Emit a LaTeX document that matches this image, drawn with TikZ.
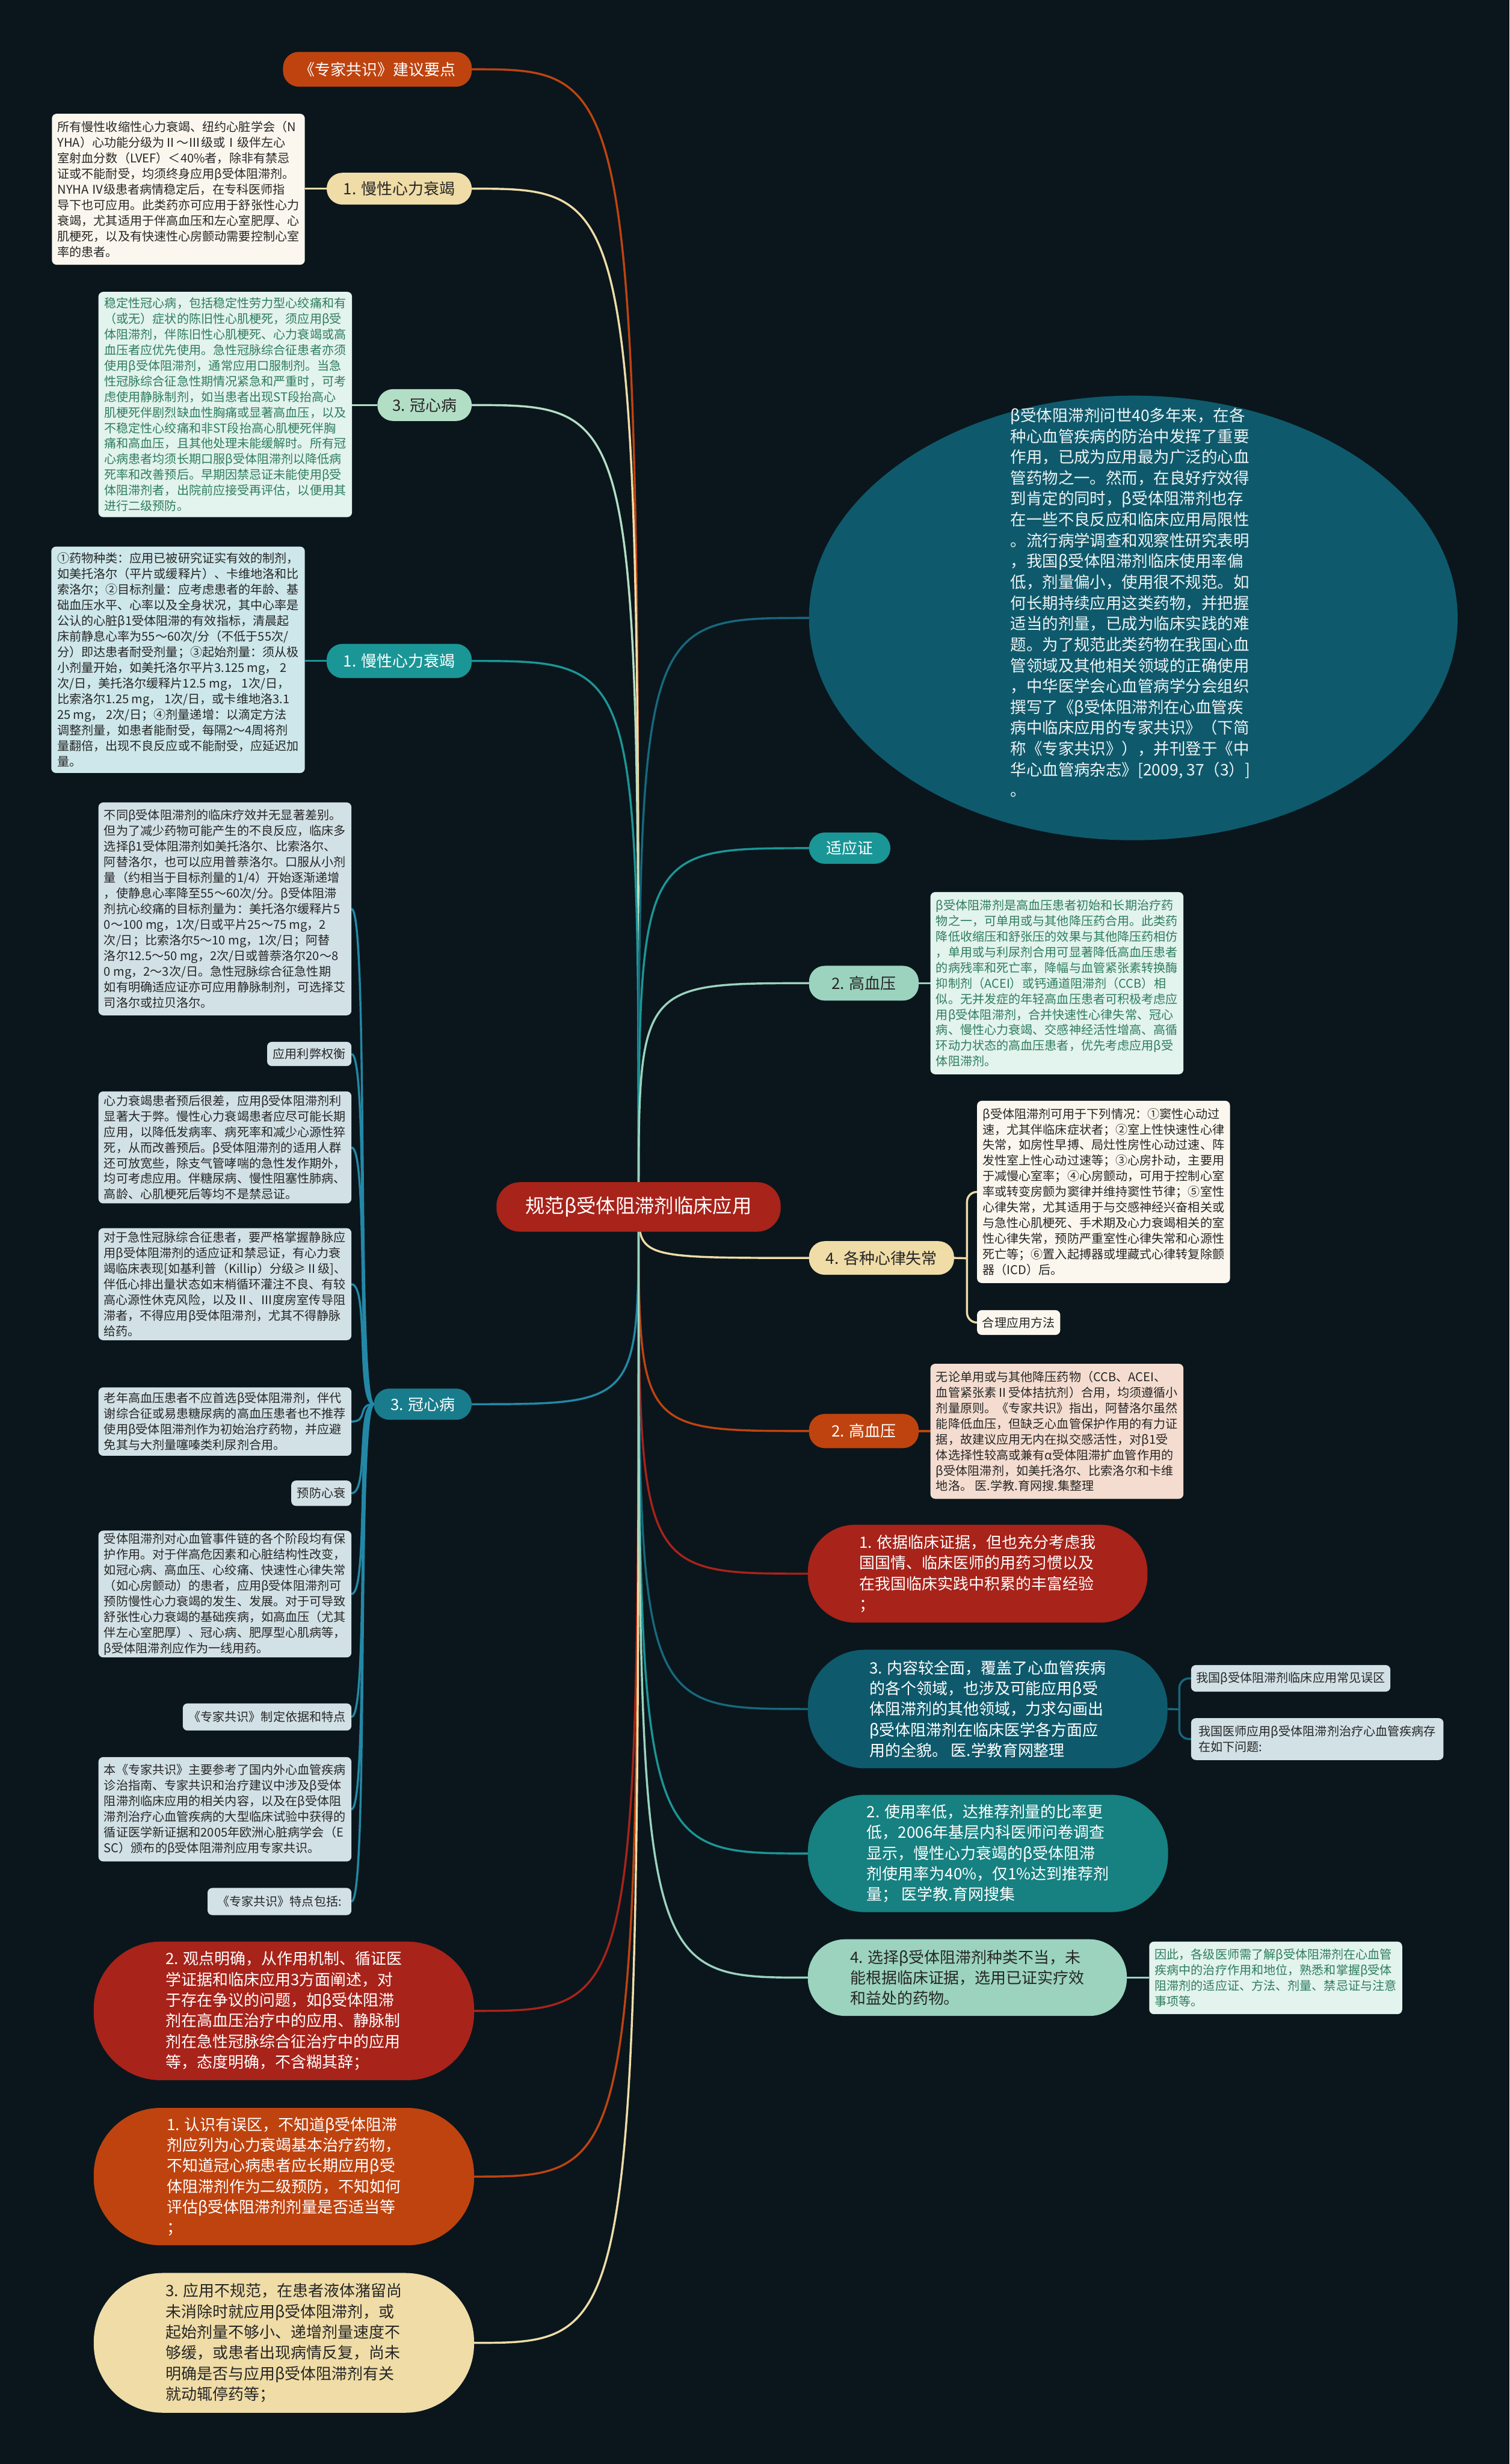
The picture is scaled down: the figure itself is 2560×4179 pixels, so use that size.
\documentclass[tikz,border=0pt]{standalone}
\usepackage{fontspec}
\setmainfont{Noto Sans CJK SC}
\usetikzlibrary{backgrounds,shapes.geometric}
\definecolor{bg}{HTML}{0A161C}
\definecolor{cRed}{HTML}{A8231A}
\definecolor{cOrg}{HTML}{BF430F}
\definecolor{cBei}{HTML}{EFDCA6}
\definecolor{cMint}{HTML}{9BD3BF}
\definecolor{cGrn}{HTML}{B3DEC6}
\definecolor{cTeal}{HTML}{1B9696}
\definecolor{cDTeal}{HTML}{0E5A6C}
\definecolor{lDTeal}{HTML}{17687C}
\definecolor{cTBlue}{HTML}{187C8C}
\definecolor{lTBlue}{HTML}{2388A6}
\definecolor{fCream}{HTML}{FBF7EE}
\definecolor{fMint}{HTML}{E3F3EE}
\definecolor{fCyan}{HTML}{CDE7EA}
\definecolor{fGray}{HTML}{D2E1E6}
\definecolor{fPeach}{HTML}{F4DDD0}
\definecolor{tGreen}{HTML}{2E7D5E}
\definecolor{tDark}{HTML}{262626}
\definecolor{tEll}{HTML}{EEF3F4}
\tikzset{
  base/.style={inner sep=0pt, outer sep=0pt, align=left},
  bx/.style n args={4}{minimum width={(#3-#1)*0.3pt}, minimum height={(#4-#2)*0.3pt}, at={({(#1+#3)/2},{(#2+#4)/2})}},
  sm/.style={base, font=\fontsize{6.15pt}{7.95pt}\selectfont, rounded corners=2.4pt},
  md/.style={base, font=\fontsize{7.95pt}{10.5pt}\selectfont},
  pill/.style={md, rounded corners=8pt},
  link/.style={line width=1.05pt},
  graybox/.style={sm, fill=fGray, text=tDark},
}
\begin{document}
\begin{tikzpicture}[x=0.3pt,y=-0.3pt]
\useasboundingbox (0,0) rectangle (2560,4179);
\coordinate (c) at (1083,2047);

% ---------- centre ----------
\node[base, fill=cRed, text=white, rounded corners=12pt, font=\fontsize{9.9pt}{12pt}\selectfont, bx={842}{2005}{1324}{2089}] (ctr) {规范β受体阻滞剂临床应用};

% ---------- left side ----------
\node[pill, fill=cOrg, text=white, bx={480}{88}{800}{147}] (A) {《专家共识》建议要点};

\node[pill, fill=cBei, text=tDark, bx={554}{293}{800}{347}] (B) {1. 慢性心力衰竭};
\node[sm, fill=fCream, text=tDark, bx={88}{193}{517}{449}] (b1) {所有慢性收缩性心力衰竭、纽约心脏学会（N\\
YHA）心功能分级为Ⅱ～Ⅲ级或Ⅰ级伴左心\\
室射血分数（LVEF）＜40\%者，除非有禁忌\\
证或不能耐受，均须终身应用β受体阻滞剂。\\
NYHA Ⅳ级患者病情稳定后，在专科医师指\\
导下也可应用。此类药亦可应用于舒张性心力\\
衰竭，尤其适用于伴高血压和左心室肥厚、心\\
肌梗死，以及有快速性心房颤动需要控制心室\\
率的患者。};

\node[pill, fill=cGrn, text=tDark, bx={640}{660}{800}{714}] (C) {3. 冠心病};
\node[sm, fill=fMint, text=tGreen, bx={167}{495}{597}{877}] (b2) {稳定性冠心病，包括稳定性劳力型心绞痛和有\\
（或无）症状的陈旧性心肌梗死，须应用β受\\
体阻滞剂，伴陈旧性心肌梗死、心力衰竭或高\\
血压者应优先使用。急性冠脉综合征患者亦须\\
使用β受体阻滞剂，通常应用口服制剂。当急\\
性冠脉综合征急性期情况紧急和严重时，可考\\
虑使用静脉制剂，如当患者出现ST段抬高心\\
肌梗死伴剧烈缺血性胸痛或显著高血压，以及\\
不稳定性心绞痛和非ST段抬高心肌梗死伴胸\\
痛和高血压，且其他处理未能缓解时。所有冠\\
心病患者均须长期口服β受体阻滞剂以降低病\\
死率和改善预后。早期因禁忌证未能使用β受\\
体阻滞剂者，出院前应接受再评估，以便用其\\
进行二级预防。};

\node[pill, fill=cTeal, text=white, bx={554}{1092}{800}{1150}] (D) {1. 慢性心力衰竭};
\node[sm, fill=fCyan, text=tDark, bx={87}{927}{517}{1311}] (b3) {①药物种类：应用已被研究证实有效的制剂，\\
如美托洛尔（平片或缓释片）、卡维地洛和比\\
索洛尔；②目标剂量：应考虑患者的年龄、基\\
础血压水平、心率以及全身状况，其中心率是\\
公认的心脏β1受体阻滞的有效指标，清晨起\\
床前静息心率为55～60次/分（不低于55次/\\
分）即达患者耐受剂量；③起始剂量：须从极\\
小剂量开始，如美托洛尔平片3.125 mg， 2\\
次/日，美托洛尔缓释片12.5 mg， 1次/日，\\
比索洛尔1.25 mg， 1次/日，或卡维地洛3.1\\
25 mg， 2次/日；④剂量递增：以滴定方法\\
调整剂量，如患者能耐受，每隔2～4周将剂\\
量翻倍，出现不良反应或不能耐受，应延迟加\\
量。};

\node[pill, fill=cTBlue, text=white, bx={634}{2355}{800}{2408}] (E) {3. 冠心病};
\node[graybox, bx={167}{1361}{596}{1722}] (b4) {不同β受体阻滞剂的临床疗效并无显著差别。\\
但为了减少药物可能产生的不良反应，临床多\\
选择β1受体阻滞剂如美托洛尔、比索洛尔、\\
阿替洛尔，也可以应用普萘洛尔。口服从小剂\\
量（约相当于目标剂量的1/4）开始逐渐递增\\
，使静息心率降至55～60次/分。β受体阻滞\\
剂抗心绞痛的目标剂量为：美托洛尔缓释片5\\
0～100 mg，1次/日或平片25～75 mg，2\\
次/日；比索洛尔5～10 mg，1次/日；阿替\\
洛尔12.5～50 mg，2次/日或普萘洛尔20～8\\
0 mg，2～3次/日。急性冠脉综合征急性期\\
如有明确适应证亦可应用静脉制剂，可选择艾\\
司洛尔或拉贝洛尔。};
\node[graybox, bx={453}{1767}{596}{1808}] (L1) {应用利弊权衡};
\node[graybox, bx={167}{1851}{596}{2041}] (b5) {心力衰竭患者预后很差，应用β受体阻滞剂利\\
显著大于弊。慢性心力衰竭患者应尽可能长期\\
应用，以降低发病率、病死率和减少心源性猝\\
死，从而改善预后。β受体阻滞剂的适用人群\\
还可放宽些，除支气管哮喘的急性发作期外，\\
均可考虑应用。伴糖尿病、慢性阻塞性肺病、\\
高龄、心肌梗死后等均不是禁忌证。};
\node[graybox, bx={167}{2083}{596}{2273}] (b6) {对于急性冠脉综合征患者，要严格掌握静脉应\\
用β受体阻滞剂的适应证和禁忌证，有心力衰\\
竭临床表现[如基利普（Killip）分级≥Ⅱ级]、\\
伴低心排出量状态如末梢循环灌注不良、有较\\
高心源性休克风险，以及Ⅱ、Ⅲ度房室传导阻\\
滞者，不得应用β受体阻滞剂，尤其不得静脉\\
给药。};
\node[graybox, bx={167}{2353}{596}{2469}] (b7) {老年高血压患者不应首选β受体阻滞剂，伴代\\
谢综合征或易患糖尿病的高血压患者也不推荐\\
使用β受体阻滞剂作为初始治疗药物，并应避\\
免其与大剂量噻嗪类利尿剂合用。};
\node[graybox, bx={494}{2511}{596}{2554}] (L2) {预防心衰};
\node[graybox, bx={167}{2596}{596}{2811}] (b8) {受体阻滞剂对心血管事件链的各个阶段均有保\\
护作用。对于伴高危因素和心脏结构性改变，\\
如冠心病、高血压、心绞痛、快速性心律失常\\
（如心房颤动）的患者，应用β受体阻滞剂可\\
预防慢性心力衰竭的发生、发展。对于可导致\\
舒张性心力衰竭的基础疾病，如高血压（尤其\\
伴左心室肥厚）、冠心病、肥厚型心肌病等，\\
β受体阻滞剂应作为一线用药。};
\node[graybox, bx={310}{2889}{596}{2935}] (L3) {《专家共识》制定依据和特点};
\node[graybox, bx={167}{2980}{596}{3157}] (b9) {本《专家共识》主要参考了国内外心血管疾病\\
诊治指南、专家共识和治疗建议中涉及β受体\\
阻滞剂临床应用的相关内容，以及在β受体阻\\
滞剂治疗心血管疾病的大型临床试验中获得的\\
循证医学新证据和2005年欧洲心脏病学会（E\\
SC）颁布的β受体阻滞剂应用专家共识。};
\node[graybox, bx={352}{3202}{596}{3248}] (L4) {《专家共识》特点包括:};

\node[md, fill=cRed, text=white, rounded corners=34pt, bx={159}{3293}{804}{3528}] (RB) {2. 观点明确，从作用机制、循证医\\
学证据和临床应用3方面阐述，对\\
于存在争议的问题，如β受体阻滞\\
剂在高血压治疗中的应用、静脉制\\
剂在急性冠脉综合征治疗中的应用\\
等，态度明确，不含糊其辞；};
\node[md, fill=cOrg, text=white, rounded corners=34pt, bx={159}{3575}{804}{3808}] (OB) {1. 认识有误区，不知道β受体阻滞\\
剂应列为心力衰竭基本治疗药物，\\
不知道冠心病患者应长期应用β受\\
体阻滞剂作为二级预防，不知如何\\
评估β受体阻滞剂剂量是否适当等\\
；};
\node[md, fill=cBei, text=tDark, rounded corners=35pt, bx={159}{3855}{804}{4092}] (YB) {3. 应用不规范，在患者液体潴留尚\\
未消除时就应用β受体阻滞剂，或\\
起始剂量不够小、递增剂量速度不\\
够缓，或患者出现病情反复，尚未\\
明确是否与应用β受体阻滞剂有关\\
就动辄停药等；};

% ---------- right side ----------
\node[ellipse, fill=cDTeal, inner sep=0pt, outer sep=0pt, minimum width=330pt, minimum height=226.2pt] (ell) at (1922,1048) {};
\node[base, text=tEll, font=\fontsize{8.1pt}{10.6pt}\selectfont] (ellt) at (1917,1022) {β受体阻滞剂问世40多年来，在各\\
种心血管疾病的防治中发挥了重要\\
作用，已成为应用最为广泛的心血\\
管药物之一。然而，在良好疗效得\\
到肯定的同时，β受体阻滞剂也存\\
在一些不良反应和临床应用局限性\\
。流行病学调查和观察性研究表明\\
，我国β受体阻滞剂临床使用率偏\\
低，剂量偏小，使用很不规范。如\\
何长期持续应用这类药物，并把握\\
适当的剂量，已成为临床实践的难\\
题。为了规范此类药物在我国心血\\
管领域及其他相关领域的正确使用\\
，中华医学会心血管病学分会组织\\
撰写了《β受体阻滞剂在心血管疾\\
病中临床应用的专家共识》（下简\\
称《专家共识》），并刊登于《中\\
华心血管病杂志》[2009, 37（3）]\\
。};

\node[pill, fill=cTeal, text=white, bx={1372}{1412}{1510}{1465}] (SY) {适应证};

\node[pill, fill=cMint, text=tDark, bx={1372}{1638}{1558}{1697}] (HP) {2. 高血压};
\node[sm, fill=fMint, text=tGreen, bx={1578}{1513}{2007}{1822}] (hyp) {β受体阻滞剂是高血压患者初始和长期治疗药\\
物之一，可单用或与其他降压药合用。此类药\\
降低收缩压和舒张压的效果与其他降压药相仿\\
，单用或与利尿剂合用可显著降低高血压患者\\
的病残率和死亡率，降幅与血管紧张素转换酶\\
抑制剂（ACEI）或钙通道阻滞剂（CCB）相\\
似。无并发症的年轻高血压患者可积极考虑应\\
用β受体阻滞剂，合并快速性心律失常、冠心\\
病、慢性心力衰竭、交感神经活性增高、高循\\
环动力状态的高血压患者，优先考虑应用β受\\
体阻滞剂。};

\node[pill, fill=cBei, text=tDark, bx={1372}{2105}{1618}{2162}] (AP) {4. 各种心律失常};
\node[sm, fill=fCream, text=tDark, bx={1657}{1867}{2086}{2176}] (arr) {β受体阻滞剂可用于下列情况：①窦性心动过\\
速，尤其伴临床症状者；②室上性快速性心律\\
失常，如房性早搏、局灶性房性心动过速、阵\\
发性室上性心动过速等；③心房扑动，主要用\\
于减慢心室率；④心房颤动，可用于控制心室\\
率或转变房颤为窦律并维持窦性节律；⑤室性\\
心律失常，尤其适用于与交感神经兴奋相关或\\
与急性心肌梗死、手术期及心力衰竭相关的室\\
性心律失常，预防严重室性心律失常和心源性\\
死亡等；⑥置入起搏器或埋藏式心律转复除颤\\
器（ICD）后。};
\node[sm, fill=fCream, text=tDark, bx={1657}{2222}{1798}{2264}] (HL) {合理应用方法};

\node[pill, fill=cOrg, text=white, bx={1372}{2398}{1558}{2456}] (OP) {2. 高血压};
\node[sm, fill=fPeach, text=tDark, bx={1578}{2313}{2007}{2542}] (hyp2) {无论单用或与其他降压药物（CCB、ACEI、\\
血管紧张素Ⅱ受体拮抗剂）合用，均须遵循小\\
剂量原则。《专家共识》指出，阿替洛尔虽然\\
能降低血压，但缺乏心血管保护作用的有力证\\
据，故建议应用无内在拟交感活性，对β1受\\
体选择性较高或兼有α受体阻滞扩血管作用的\\
β受体阻滞剂，如美托洛尔、比索洛尔和卡维\\
地洛。 医.学教.育网搜.集整理};

\node[md, fill=cRed, text=white, rounded corners=24pt, bx={1370}{2586}{1946}{2752}] (R1) {1. 依据临床证据，但也充分考虑我\\
国国情、临床医师的用药习惯以及\\
在我国临床实践中积累的丰富经验\\
；};
\node[md, fill=cDTeal, text=white, rounded corners=29pt, bx={1370}{2798}{1980}{2999}] (R3) {3. 内容较全面，覆盖了心血管疾病\\
的各个领域，也涉及可能应用β受\\
体阻滞剂的其他领域，力求勾画出\\
β受体阻滞剂在临床医学各方面应\\
用的全貌。 医.学教育网整理};
\node[graybox, bx={2020}{2824}{2358}{2869}] (S1) {我国β受体阻滞剂临床应用常见误区};
\node[graybox, bx={2020}{2914}{2448}{2985}] (S2) {我国医师应用β受体阻滞剂治疗心血管疾病存\\
在如下问题:};
\node[md, fill=cTeal!85!black, text=white, rounded corners=29pt, bx={1370}{3044}{1981}{3243}] (R2) {2. 使用率低，达推荐剂量的比率更\\
低，2006年基层内科医师问卷调查\\
显示，慢性心力衰竭的β受体阻滞\\
剂使用率为40\%，仅1\%达到推荐剂\\
量； 医学教.育网搜集};
\node[md, fill=cMint, text=tDark, rounded corners=19pt, bx={1370}{3289}{1911}{3419}] (R4) {4. 选择β受体阻滞剂种类不当，未\\
能根据临床证据，选用已证实疗效\\
和益处的药物。};
\node[sm, fill=fMint, text=tGreen, bx={1949}{3293}{2378}{3416}] (S3) {因此，各级医师需了解β受体阻滞剂在心血管\\
疾病中的治疗作用和地位，熟悉和掌握β受体\\
阻滞剂的适应证、方法、剂量、禁忌证与注意\\
事项等。};

% ---------- connectors ----------
\begin{pgfonlayer}{background}
\fill[bg] (0,0) rectangle (2560,4179);
% from centre
\draw[link,cOrg]   (c) .. controls (c |- A.east) .. (A.east);
\draw[link,cBei]   (c) .. controls (c |- B.east) .. (B.east);
\draw[link,cGrn]   (c) .. controls (c |- C.east) .. (C.east);
\draw[link,cTeal]  (c) .. controls (c |- D.east) .. (D.east);
\draw[link,lTBlue] (c) .. controls (c |- E.east) .. (E.east);
\draw[link,cRed]   (c) .. controls (c |- RB.east) .. (RB.east);
\draw[link,cOrg]   (c) .. controls (c |- OB.east) .. (OB.east);
\draw[link,cBei]   (c) .. controls (c |- YB.east) .. (YB.east);
\draw[link,lDTeal] (c) .. controls (c |- ell.west) .. (ell.west);
\draw[link,cTeal]  (c) .. controls (c |- SY.west) .. (SY.west);
\draw[link,cMint]  (c) .. controls (c |- HP.west) .. (HP.west);
\draw[link,cBei]   (c) .. controls (c |- AP.west) .. (AP.west);
\draw[link,cOrg]   (c) .. controls (c |- OP.west) .. (OP.west);
\draw[link,cRed]   (c) .. controls (c |- R1.west) .. (R1.west);
\draw[link,lDTeal] (c) .. controls (c |- R3.west) .. (R3.west);
\draw[link,cTeal]  (c) .. controls (c |- R2.west) .. (R2.west);
\draw[link,cMint]  (c) .. controls (c |- R4.west) .. (R4.west);
% pill to boxes
\draw[link,cBei]  (B.west) -- (b1.east |- B.west);
\draw[link,cGrn]  (C.west) -- (b2.east |- C.west);
\draw[link,cTeal] (D.west) -- (b3.east |- D.west);
\foreach \t in {b4,L1,b5,b6,b7,L2,b8,L3,b9,L4}
  \draw[link,lTBlue] (E.west) .. controls +(-30,0) and +(30,0) .. (\t.east);
\draw[link,cMint] (HP.east) -- (hyp.west |- HP.east);
\coordinate (aj) at (1640,2134);
\draw[link,cBei] (AP.east) -- (aj);
\draw[link,cBei,rounded corners=5pt] (aj) |- (arr.west);
\draw[link,cBei,rounded corners=5pt] (aj) |- (HL.west);
\draw[link,cOrg] (OP.east) -- (hyp2.west |- OP.east);
\coordinate (rj) at (2000,2899);
\draw[link,lDTeal] (R3.east) -- (rj);
\draw[link,lDTeal,rounded corners=5pt] (rj) |- (S1.west);
\draw[link,lDTeal,rounded corners=5pt] (rj) |- (S2.west);
\draw[link,cMint] (R4.east) -- (S3.west |- R4.east);
\end{pgfonlayer}
\end{tikzpicture}
\end{document}
